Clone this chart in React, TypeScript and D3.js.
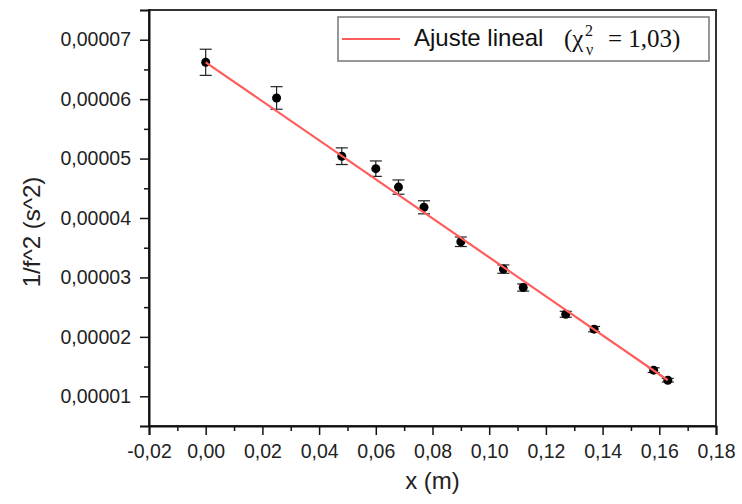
import { useEffect, useRef } from 'react'
import * as d3 from 'd3'

// measured points: x (m), 1/f^2 (s^2), error
const xs = [0.0, 0.025, 0.048, 0.06, 0.068, 0.077, 0.09, 0.105, 0.112, 0.127, 0.137, 0.158, 0.163]
const ys = [
  0.0000662, 0.0000602, 0.0000504, 0.0000483, 0.0000452, 0.0000418, 0.000036, 0.0000314,
  0.0000283, 0.0000238, 0.0000213, 0.0000144, 0.0000127,
]
const errs = [
  0.0000022, 0.0000019, 0.0000014, 0.0000013, 0.0000012, 0.0000011, 0.0000008, 0.0000007,
  0.0000006, 0.0000005, 0.00000045, 0.0000004, 0.0000003,
]

// fitted line end points
const fitX = [0.0, 0.163]
const fitY = [0.0000662, 0.0000127]

const xTicks = [-0.02, 0, 0.02, 0.04, 0.06, 0.08, 0.1, 0.12, 0.14, 0.16, 0.18]
const xMinor = [-0.01, 0.01, 0.03, 0.05, 0.07, 0.09, 0.11, 0.13, 0.15, 0.17]
const yTicks = [0.00001, 0.00002, 0.00003, 0.00004, 0.00005, 0.00006, 0.00007]
const yMinor = [0.000015, 0.000025, 0.000035, 0.000045, 0.000055, 0.000065]

const locale = d3.formatLocale({
  decimal: ',',
  thousands: '.',
  grouping: [3],
  currency: ['', ''],
  minus: '-',
})

export default function App() {
  const svgRef = useRef<SVGSVGElement>(null)

  useEffect(() => {
    const W = 742
    const H = 504
    const margin = { top: 10, right: 26, bottom: 78, left: 149 }
    const innerW = W - margin.left - margin.right
    const innerH = H - margin.top - margin.bottom
    const sans = '"Liberation Sans", Arial, sans-serif'
    const serif = '"Liberation Serif", "Times New Roman", serif'

    const x = d3.scaleLinear().domain([-0.02, 0.18]).range([0, innerW])
    const y = d3.scaleLinear().domain([0.000005, 0.000075]).range([innerH, 0])

    const svg = d3.select(svgRef.current)
    svg.selectAll('*').remove()
    svg.attr('width', W).attr('height', H)

    const g = svg.append('g').attr('transform', `translate(${margin.left},${margin.top})`)

    // frame
    g.append('rect')
      .attr('width', innerW).attr('height', innerH)
      .attr('fill', 'none').attr('stroke', '#333').attr('stroke-width', 2)

    // x axis
    g.append('g')
      .attr('transform', `translate(0,${innerH})`)
      .call(d3.axisBottom(x).tickValues(xMinor).tickSize(5).tickFormat(() => ''))
      .call((ax) => ax.select('.domain').remove())
      .call((ax) => ax.selectAll('.tick line').attr('stroke', '#111').attr('stroke-width', 1.5))
    g.append('g')
      .attr('transform', `translate(0,${innerH})`)
      .call(d3.axisBottom(x).tickValues(xTicks).tickSize(9).tickPadding(9).tickFormat((d) => locale.format('.2f')(d as number)))
      .call((ax) => ax.select('.domain').attr('stroke', '#111').attr('stroke-width', 2))
      .call((ax) => ax.selectAll('.tick line').attr('stroke', '#111').attr('stroke-width', 1.5))
      .call((ax) => ax.selectAll('text').attr('fill', '#222').attr('font-size', 19.5).attr('font-family', sans))

    // y axis
    g.append('g')
      .call(d3.axisLeft(y).tickValues(yMinor).tickSize(5).tickFormat(() => ''))
      .call((ax) => ax.select('.domain').remove())
      .call((ax) => ax.selectAll('.tick line').attr('stroke', '#111').attr('stroke-width', 1.5))
    g.append('g')
      .call(d3.axisLeft(y).tickValues(yTicks).tickSize(9).tickPadding(9).tickFormat((d) => locale.format('.5f')(d as number)))
      .call((ax) => ax.select('.domain').attr('stroke', '#111').attr('stroke-width', 2))
      .call((ax) => ax.selectAll('.tick line').attr('stroke', '#111').attr('stroke-width', 1.5))
      .call((ax) => ax.selectAll('text').attr('fill', '#222').attr('font-size', 19.5).attr('font-family', sans))

    // axis titles
    g.append('text')
      .attr('x', innerW / 2).attr('y', 489 - margin.top)
      .attr('text-anchor', 'middle').attr('font-size', 24).attr('font-family', sans).attr('fill', '#222')
      .text('x (m)')
    g.append('text')
      .attr('transform', `translate(${40 - margin.left},${232 - margin.top}) rotate(-90)`)
      .attr('text-anchor', 'middle').attr('font-size', 24).attr('font-family', sans).attr('fill', '#222')
      .text('1/f^2 (s^2)')

    const pts = xs.map((v, i) => ({ x: v, y: ys[i], e: errs[i] }))

    // fit line
    const fit = fitX.map((v, i) => [x(v), y(fitY[i])] as [number, number])

    // error bars
    const eb = g.append('g').attr('stroke', '#222').attr('stroke-width', 1.2)
    pts.forEach((p) => {
      const cx = x(p.x)
      eb.append('line').attr('x1', cx).attr('x2', cx).attr('y1', y(p.y + p.e)).attr('y2', y(p.y - p.e))
      eb.append('line').attr('x1', cx - 6).attr('x2', cx + 6).attr('y1', y(p.y + p.e)).attr('y2', y(p.y + p.e))
      eb.append('line').attr('x1', cx - 6).attr('x2', cx + 6).attr('y1', y(p.y - p.e)).attr('y2', y(p.y - p.e))
    })

    g.selectAll('circle.pt')
      .data(pts)
      .join('circle')
      .attr('class', 'pt')
      .attr('cx', (d) => x(d.x)).attr('cy', (d) => y(d.y)).attr('r', 4.5)
      .attr('fill', '#000')

    g.append('path')
      .attr('d', d3.line()(fit))
      .attr('fill', 'none').attr('stroke', '#ff5c5c').attr('stroke-width', 2.2)

    // legend
    const lg = svg.append('g')
    lg.append('rect')
      .attr('x', 338).attr('y', 17).attr('width', 371).attr('height', 44)
      .attr('fill', '#fff').attr('stroke', '#777').attr('stroke-width', 1.5)
    lg.append('line')
      .attr('x1', 342).attr('x2', 400).attr('y1', 39).attr('y2', 39)
      .attr('stroke', '#ff5c5c').attr('stroke-width', 2.2)
    lg.append('text')
      .attr('x', 414).attr('y', 46)
      .attr('font-size', 24).attr('font-family', sans).attr('fill', '#111')
      .text('Ajuste lineal')
    const chi = lg.append('text')
      .attr('x', 564).attr('y', 47)
      .attr('font-size', 25).attr('font-family', serif).attr('fill', '#111')
    chi.append('tspan').text('(χ')
    chi.append('tspan').attr('x', 585).attr('y', 36).attr('font-size', 16).text('2')
    chi.append('tspan').attr('x', 586).attr('y', 55).attr('font-size', 16).text('ν')
    chi.append('tspan').attr('x', 608).attr('y', 47).text('= 1,03)')

    return () => {
      svg.selectAll('*').remove()
    }
  }, [])

  return (
    <div style={{ position: 'absolute', left: 0, top: 0 }}>
      <svg ref={svgRef} style={{ display: 'block' }} />
    </div>
  )
}
